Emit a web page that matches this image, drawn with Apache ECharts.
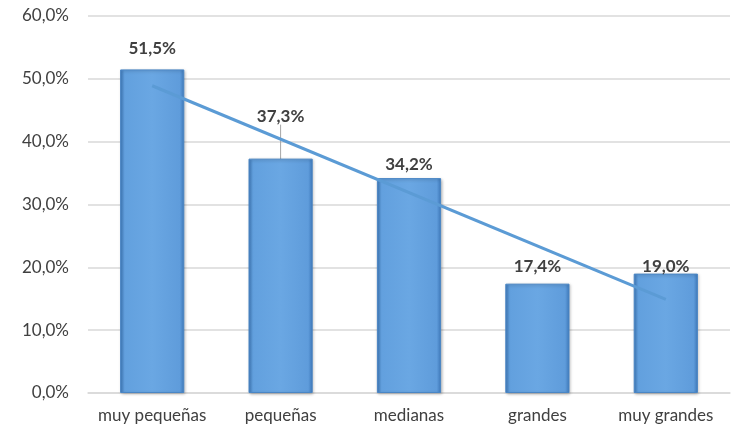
<!DOCTYPE html>
<html>
<head>
<meta charset="utf-8">
<script src="https://cdn.jsdelivr.net/npm/echarts@6/dist/echarts.min.js"></script>
<style>
  html, body { margin: 0; padding: 0; background: #fff; }
  #chart { width: 744px; height: 434px; }
</style>
</head>
<body>
<div id="chart"></div>
<script>
// categorías y porcentajes
const categories = ['muy pequeñas', 'pequeñas', 'medianas', 'grandes', 'muy grandes']
const values = [51.5, 37.3, 34.2, 17.4, 19.0]
// línea de tendencia (extremos)
const trendStart = 48.9
const trendEnd = 14.9
const yTicks = [0, 10, 20, 30, 40, 50, 60]

const fmt = v => v.toFixed(1).replace('.', ',') + '%'

// ajuste vertical de cada etiqueta (px)
const labelShift = [-4, -26, 3, -1, 9]

const chart = echarts.init(document.getElementById('chart'))

const barColor = new echarts.graphic.LinearGradient(0, 0, 1, 0, [
  { offset: 0, color: '#3f7bbd' },
  { offset: 0.07, color: '#62a0de' },
  { offset: 0.5, color: '#6aa7e3' },
  { offset: 0.93, color: '#5f9cdb' },
  { offset: 1, color: '#3f7bbd' }
])

chart.setOption({
  animation: false,
  textStyle: { fontFamily: 'Lato, "Open Sans", sans-serif' },
  grid: { left: 88, right: 14, top: 16, bottom: 41 },
  xAxis: {
    type: 'category',
    data: categories,
    axisTick: { show: false },
    axisLine: { lineStyle: { color: '#d9d9d9', width: 1.5 } },
    axisLabel: { color: '#404040', fontSize: 17, margin: 14, interval: 0 }
  },
  yAxis: {
    type: 'value',
    min: yTicks[0],
    max: yTicks[yTicks.length - 1],
    interval: 10,
    axisLine: { show: false },
    axisTick: { show: false },
    splitLine: { lineStyle: { color: '#d9d9d9', width: 1.5 } },
    axisLabel: { color: '#404040', fontSize: 17, margin: 19, formatter: v => fmt(v) }
  },
  series: [
    {
      type: 'bar',
      data: values.map((v, i) => i === 1 ? { value: v, labelLine: { show: true } } : v),
      barWidth: '50%',
      itemStyle: {
        color: barColor,
        borderColor: '#4a86c5',
        borderWidth: 1,
        shadowColor: 'rgba(0,0,0,0.25)',
        shadowBlur: 3,
        shadowOffsetX: 1,
        shadowOffsetY: 1
      },
      label: {
        show: true,
        position: 'top',
        distance: 8,
        color: '#404040',
        fontSize: 17,
        fontWeight: 'bold',
        formatter: p => fmt(p.value)
      },
      labelLayout: p => ({ dy: labelShift[p.dataIndex] }),
      labelLine: { show: false, lineStyle: { color: '#a6a6a6', width: 1 } },
      z: 2
    },
    {
      type: 'line',
      data: [[0, trendStart], [categories.length - 1, trendEnd]],
      symbol: 'none',
      lineStyle: { color: '#5b9bd5', width: 3 },
      z: 3
    }
  ]
})
</script>
</body>
</html>
